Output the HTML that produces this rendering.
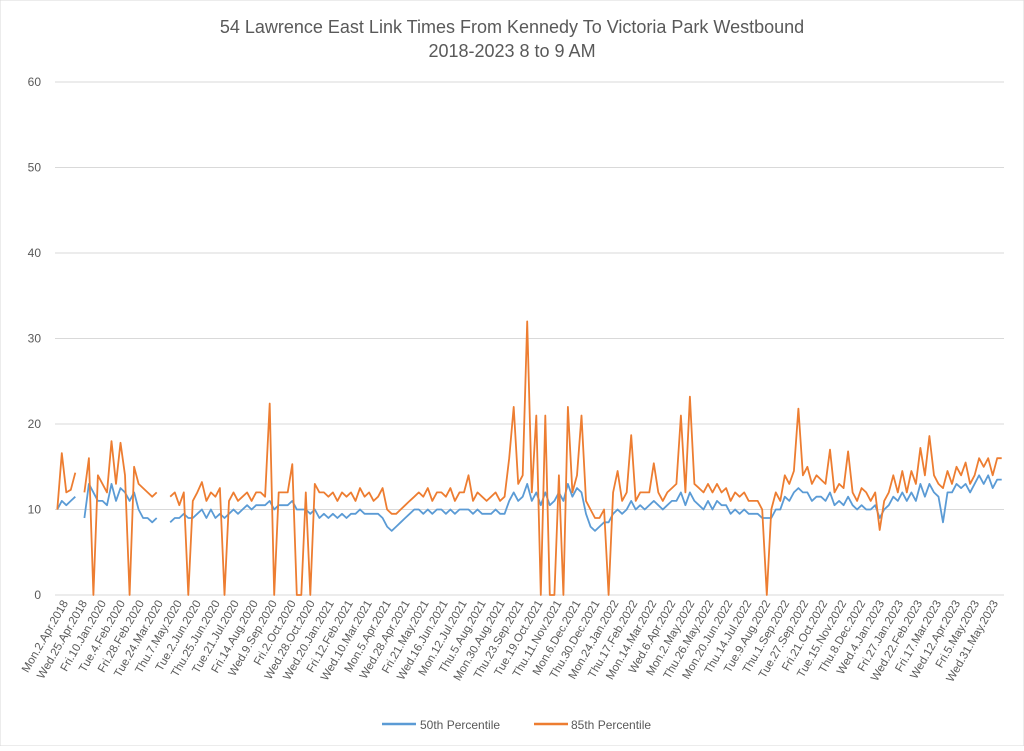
<!DOCTYPE html>
<html><head><meta charset="utf-8">
<style>
body{margin:0;background:#fff;font-family:"Liberation Sans",sans-serif;}
svg text{font-family:"Liberation Sans",sans-serif;fill:#595959;}
</style></head>
<body>
<svg id="chart" width="1024" height="746" xmlns="http://www.w3.org/2000/svg">
<rect x="0" y="0" width="1024" height="746" fill="#fff" stroke="#d9d9d9"/>
<text x="512" y="33" text-anchor="middle" font-size="18">54 Lawrence East Link Times From Kennedy To Victoria Park Westbound</text>
<text x="512" y="57" text-anchor="middle" font-size="18">2018-2023 8 to 9 AM</text>
<g id="grid"></g><g id="xlabels"></g><g id="series"></g>
<g>
<line x1="382" y1="724" x2="416" y2="724" stroke="#5b9bd5" stroke-width="2.5"/>
<text x="420" y="729" font-size="12">50th Percentile</text>
<line x1="534" y1="724" x2="568" y2="724" stroke="#ed7d31" stroke-width="2.5"/>
<text x="571" y="729" font-size="12">85th Percentile</text>
</g>
</svg>
<script>
const tickLabels=["Mon.2.Apr.2018","Wed.25.Apr.2018","Fri.10.Jan.2020","Tue.4.Feb.2020","Fri.28.Feb.2020","Tue.24.Mar.2020","Thu.7.May.2020","Tue.2.Jun.2020","Thu.25.Jun.2020","Tue.21.Jul.2020","Fri.14.Aug.2020","Wed.9.Sep.2020","Fri.2.Oct.2020","Wed.28.Oct.2020","Wed.20.Jan.2021","Fri.12.Feb.2021","Wed.10.Mar.2021","Mon.5.Apr.2021","Wed.28.Apr.2021","Fri.21.May.2021","Wed.16.Jun.2021","Mon.12.Jul.2021","Thu.5.Aug.2021","Mon.30.Aug.2021","Thu.23.Sep.2021","Tue.19.Oct.2021","Thu.11.Nov.2021","Mon.6.Dec.2021","Thu.30.Dec.2021","Mon.24.Jan.2022","Thu.17.Feb.2022","Mon.14.Mar.2022","Wed.6.Apr.2022","Mon.2.May.2022","Thu.26.May.2022","Mon.20.Jun.2022","Thu.14.Jul.2022","Tue.9.Aug.2022","Thu.1.Sep.2022","Tue.27.Sep.2022","Fri.21.Oct.2022","Tue.15.Nov.2022","Thu.8.Dec.2022","Wed.4.Jan.2023","Fri.27.Jan.2023","Wed.22.Feb.2023","Fri.17.Mar.2023","Wed.12.Apr.2023","Fri.5.May.2023","Wed.31.May.2023"];
const yTicks=[0,10,20,30,40,50,60];
const p85=[10,16.6,12,12.3,14.3, null,12,16,0,14, 13,12,18,13,17.8, 14,0,15,13,12.5, 12,11.5,12,null,null, 11.5,12,10.5,12,0, 11,12,13.2,11,12, 11.5,12.5,0,11,12, 11,11.5,12,11,12, 12,11.5,22.4,0,12, 12,12,15.3,0,0, 12,0,13,12,12, 11.5,12,11,12,11.5, 12,11,12.5,11.5,12, 11,11.5,12.5,10,9.5, 9.5,10,10.5,11,11.5, 12,11.5,12.5,11,12, 12,11.5,12.5,11,12, 12,14,11,12,11.5, 11,11.5,12,11,11.5, 16,22,13,14,32, 12,21,0,21,0, 0,14,0,22,12, 14,21,11,10,9, 9,10,0,12,14.5, 11,12,18.7,11,12, 12,12,15.4,12,11, 12,12.5,13,21,12, 23.2,13,12.5,12,13, 12,13,12,12.5,11, 12,11.5,12,11,11, 11,10,0,10,12, 11,14,13,14.5,21.8, 14,15,13,14,13.5, 13,17,12,13,12.5, 16.8,12,11,12.5,12, 11,12,7.6,11,12, 14,12,14.5,12,14.5, 13,17.2,14,18.6,14, 13,12.5,14.5,13,15, 14,15.5,13,14,16, 15,16,14,16,16];
const p50=[10,11,10.5,11,11.5, null,9,13,12,11, 11,10.5,13,11,12.5, 12,11,12,10,9, 9,8.5,9,null,null, 8.5,9,9,9.5,9, 9,9.5,10,9,10, 9,9.5,9,9.5,10, 9.5,10,10.5,10,10.5, 10.5,10.5,11,10,10.5, 10.5,10.5,11,10,10, 10,9.5,10,9,9.5, 9,9.5,9,9.5,9, 9.5,9.5,10,9.5,9.5, 9.5,9.5,9,8,7.5, 8,8.5,9,9.5,10, 10,9.5,10,9.5,10, 10,9.5,10,9.5,10, 10,10,9.5,10,9.5, 9.5,9.5,10,9.5,9.5, 11,12,11,11.5,13, 11,12,10.5,12,10.5, 11,12,11,13,11.5, 12.5,12,9.5,8,7.5, 8,8.5,8.5,9.5,10, 9.5,10,11,10,10.5, 10,10.5,11,10.5,10, 10.5,11,11,12,10.5, 12,11,10.5,10,11, 10,11,10.5,10.5,9.5, 10,9.5,10,9.5,9.5, 9.5,9,9,9,10, 10,11.5,11,12,12.5, 12,12,11,11.5,11.5, 11,12,10.5,11,10.5, 11.5,10.5,10,10.5,10, 10,10.5,9,10,10.5, 11.5,11,12,11,12, 11,13,11.5,13,12, 11.5,8.5,12,12,13, 12.5,13,12,13,14, 13,14,12.5,13.5,13.5];
const NS="http://www.w3.org/2000/svg";
const L=55,R=1004,T=82,B=595,yMax=60;
const n=p85.length;
const xs=i=>L+(i+0.5)*(R-L)/n;
const ys=v=>B-(v/yMax)*(B-T);
const grid=document.getElementById('grid');
yTicks.forEach(t=>{
 const ln=document.createElementNS(NS,'line');
 ln.setAttribute('x1',L);ln.setAttribute('x2',R);ln.setAttribute('y1',ys(t));ln.setAttribute('y2',ys(t));
 ln.setAttribute('stroke','#d9d9d9');ln.setAttribute('stroke-width','1');
 
 
 grid.appendChild(ln);
 const tx=document.createElementNS(NS,'text');
 tx.setAttribute('x',41);tx.setAttribute('y',ys(t)+4);tx.setAttribute('text-anchor','end');tx.setAttribute('font-size','12');
 tx.textContent=t;
 
 
 grid.appendChild(tx);
});
const xl=document.getElementById('xlabels');
const step=(R-L)/tickLabels.length;
tickLabels.forEach((lab,i)=>{
 const x=L+step*(i+0.5)+4,y=603;
 const tx=document.createElementNS(NS,'text');
 tx.setAttribute('x',x);tx.setAttribute('y',y);tx.setAttribute('text-anchor','end');tx.setAttribute('font-size','11.5');
 tx.setAttribute('transform','rotate(-60 '+x+' '+y+')');
 tx.textContent=lab;
 
 
 xl.appendChild(tx);
});
function draw(arr,color,name){
 let d='',pen=false;
 arr.forEach((v,i)=>{
  if(v===null){pen=false;return;}
  d+=(pen?'L':'M')+xs(i).toFixed(1)+' '+ys(v).toFixed(1)+' ';pen=true;
 });
 const p=document.createElementNS(NS,'path');
 p.setAttribute('d',d);p.setAttribute('fill','none');p.setAttribute('stroke',color);p.setAttribute('stroke-width','1.8');p.setAttribute('stroke-linejoin','round');
 
 
 document.getElementById('series').appendChild(p);
}
draw(p50,'#5b9bd5','series-50th-percentile');
draw(p85,'#ed7d31','series-85th-percentile');
</script>
</body></html>
